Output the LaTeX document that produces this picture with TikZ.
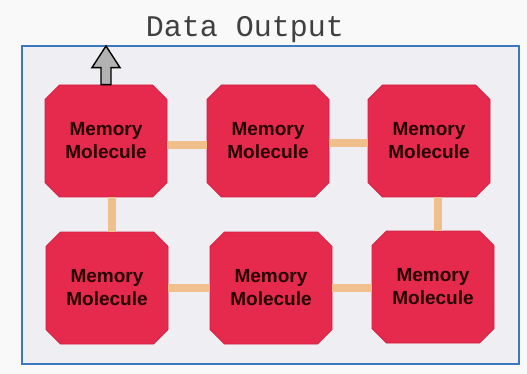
\documentclass[tikz,border=0pt]{standalone}
\usepackage{fontspec}
\setmainfont{Liberation Sans}
\newfontfamily\titlefont{Liberation Mono}
\usetikzlibrary{shapes.misc,calc}
\definecolor{cellred}{HTML}{E62A4E}
\definecolor{celledge}{HTML}{D01F42}
\definecolor{linktan}{HTML}{F0C08C}
\definecolor{framebg}{HTML}{EFEEF3}
\definecolor{frameblue}{HTML}{3A78C0}
\definecolor{pagebg}{HTML}{F9F9F9}
\tikzset{
  cell/.style={chamfered rectangle, chamfered rectangle xsep=11pt,
    fill=cellred, draw=celledge, line width=0.8pt,
    minimum width=122pt, minimum height=112pt, inner sep=0pt,
    align=center, text=black!85!red,
    font=\fontsize{19}{23}\selectfont\bfseries},
  link/.style={draw=linktan, line width=8pt},
  outframe/.style={draw=frameblue, fill=framebg, line width=2pt,
    minimum width=497pt, minimum height=318pt, inner sep=0pt},
  outarrow/.style={fill=black!30, draw=black, line width=1.4pt, line join=miter},
}
\begin{document}
\begin{tikzpicture}[x=1pt,y=-1pt]
  \fill[pagebg] (0,0) rectangle (527,374);
  \useasboundingbox (0,0) rectangle (527,374);

  \node[outframe] (frame) at (270.5,205) {};
  \node[font=\titlefont\fontsize{30}{30}\selectfont, text=black!75] (title) at (245,30) {Data Output};

  % memory cells, two rows of three
  \node[cell] (m1) at (106,141) {Memory\\Molecule};
  \node[cell] (m2) at (268,141) {Memory\\Molecule};
  \node[cell] (m3) at (429,141) {Memory\\Molecule};
  \node[cell] (m4) at (107,288) {Memory\\Molecule};
  \node[cell] (m5) at (271,288) {Memory\\Molecule};
  \node[cell] (m6) at (433,287) {Memory\\Molecule};

  % straight links between neighbouring cells
  \draw[link] ([yshift=-4pt]m1.east) -- ([yshift=-4pt]m1.east -| m2.west);
  \draw[link] ([yshift=-2pt]m2.east) -- ([yshift=-2pt]m2.east -| m3.west);
  \draw[link] ([xshift=6pt]m1.south) -- ([xshift=6pt]m1.south |- m4.north);
  \draw[link] ([xshift=9pt]m3.south) -- ([xshift=9pt]m3.south |- m6.north);
  \draw[link] (m4.east) -- (m4.east -| m5.west);
  \draw[link] (m5.east) -- (m5.east -| m6.west);

  % hollow output arrow from the first cell up to the frame
  \coordinate (ab) at ([xshift=0pt]m1.north);
  \coordinate (at) at (ab |- frame.north);
  \draw[outarrow] ($(ab)+(-5,0)$) -- ($(ab)+(-5,-17)$) -- ($(ab)+(-14,-17)$)
    -- ($(at)+(0,1)$) -- ($(ab)+(14,-17)$) -- ($(ab)+(5,-17)$) -- ($(ab)+(5,0)$) -- cycle;
\end{tikzpicture}
\end{document}
